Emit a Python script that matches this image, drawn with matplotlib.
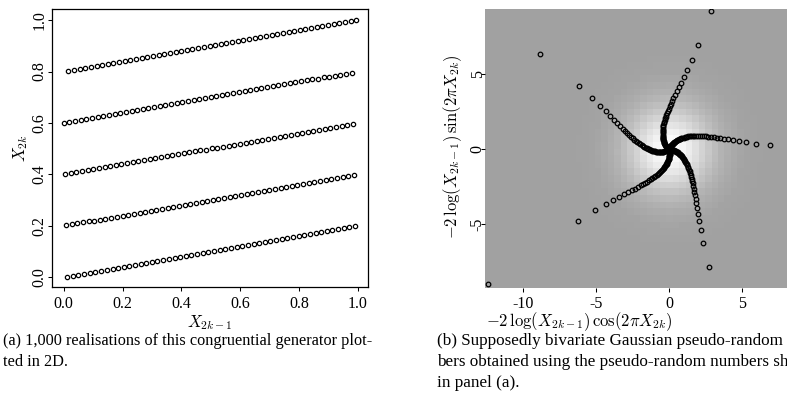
import numpy as np
import matplotlib
matplotlib.use("Agg")
import matplotlib.pyplot as plt

plt.rcParams["font.family"] = ["Liberation Serif", "DejaVu Serif"]
plt.rcParams["mathtext.fontset"] = "cm"
plt.rcParams["axes.unicode_minus"] = False

# pairs (X_{2k-1}, X_{2k}), one list per line
line0_x = [0.012, 0.031, 0.050, 0.070, 0.089, 0.108, 0.127, 0.146, 0.166, 0.185, 0.204, 0.223, 0.242,
           0.262, 0.281, 0.300, 0.319, 0.338, 0.358, 0.377, 0.396, 0.415, 0.434, 0.454, 0.473, 0.492,
           0.511, 0.530, 0.550, 0.569, 0.588, 0.607, 0.626, 0.646, 0.665, 0.684, 0.703, 0.722, 0.742,
           0.761, 0.780, 0.799, 0.818, 0.838, 0.857, 0.876, 0.895, 0.914, 0.934, 0.953, 0.972, 0.991]
line0_y = [0.0024, 0.0062, 0.0100, 0.0140, 0.0178, 0.0216, 0.0254, 0.0292, 0.0332, 0.0370, 0.0408,
           0.0446, 0.0484, 0.0524, 0.0562, 0.0600, 0.0638, 0.0676, 0.0716, 0.0754, 0.0792, 0.0830,
           0.0868, 0.0908, 0.0946, 0.0984, 0.1022, 0.1060, 0.1100, 0.1138, 0.1176, 0.1214, 0.1252,
           0.1292, 0.1330, 0.1368, 0.1406, 0.1444, 0.1484, 0.1522, 0.1560, 0.1598, 0.1636, 0.1676,
           0.1714, 0.1752, 0.1790, 0.1828, 0.1868, 0.1906, 0.1944, 0.1982]

line1_x = [0.008, 0.027, 0.046, 0.066, 0.085, 0.104, 0.123, 0.142, 0.162, 0.181, 0.200, 0.219, 0.238,
           0.258, 0.277, 0.296, 0.315, 0.334, 0.354, 0.373, 0.392, 0.411, 0.430, 0.450, 0.469, 0.488,
           0.507, 0.526, 0.546, 0.565, 0.584, 0.603, 0.622, 0.642, 0.661, 0.680, 0.699, 0.718, 0.738,
           0.757, 0.776, 0.795, 0.814, 0.834, 0.853, 0.872, 0.891, 0.910, 0.930, 0.949, 0.968, 0.987]
line1_y = [0.2016, 0.2054, 0.2092, 0.2132, 0.2170, 0.2208, 0.2246, 0.2284, 0.2324, 0.2362, 0.2400,
           0.2438, 0.2476, 0.2516, 0.2554, 0.2592, 0.2630, 0.2668, 0.2708, 0.2746, 0.2784, 0.2822,
           0.2860, 0.2900, 0.2938, 0.2976, 0.3014, 0.3052, 0.3092, 0.3130, 0.3168, 0.3206, 0.3244,
           0.3284, 0.3322, 0.3360, 0.3398, 0.3436, 0.3476, 0.3514, 0.3552, 0.3590, 0.3628, 0.3668,
           0.3706, 0.3744, 0.3782, 0.3820, 0.3860, 0.3898, 0.3936, 0.3974]

line2_x = [0.0043, 0.024, 0.043, 0.062, 0.081, 0.100, 0.120, 0.139, 0.158, 0.177, 0.196, 0.216, 0.235,
           0.254, 0.273, 0.292, 0.312, 0.331, 0.350, 0.369, 0.388, 0.408, 0.427, 0.446, 0.465, 0.484,
           0.504, 0.523, 0.542, 0.561, 0.580, 0.600, 0.619, 0.638, 0.657, 0.676, 0.696, 0.715, 0.734,
           0.753, 0.772, 0.792, 0.811, 0.830, 0.849, 0.868, 0.888, 0.907, 0.926, 0.945, 0.964, 0.984]
line2_y = [0.40086, 0.4048, 0.4086, 0.4124, 0.4162, 0.4200, 0.4240, 0.4278, 0.4316, 0.4354, 0.4392,
           0.4432, 0.4470, 0.4508, 0.4546, 0.4584, 0.4624, 0.4662, 0.4700, 0.4738, 0.4776, 0.4816,
           0.4854, 0.4892, 0.4930, 0.4968, 0.5008, 0.5046, 0.5084, 0.5122, 0.5160, 0.5200, 0.5238,
           0.5276, 0.5314, 0.5352, 0.5392, 0.5430, 0.5468, 0.5506, 0.5544, 0.5584, 0.5622, 0.5660,
           0.5698, 0.5736, 0.5776, 0.5814, 0.5852, 0.5890, 0.5928, 0.5968]

line3_x = [0.00047, 0.0197, 0.039, 0.058, 0.077, 0.096, 0.116, 0.135, 0.154, 0.173, 0.192, 0.212, 0.231,
           0.250, 0.269, 0.288, 0.308, 0.327, 0.346, 0.365, 0.384, 0.404, 0.423, 0.442, 0.461, 0.480,
           0.500, 0.519, 0.538, 0.557, 0.576, 0.596, 0.615, 0.634, 0.653, 0.672, 0.692, 0.711, 0.730,
           0.749, 0.768, 0.788, 0.807, 0.826, 0.845, 0.864, 0.884, 0.903, 0.922, 0.941, 0.960, 0.980]
line3_y = [0.600094, 0.60394, 0.6078, 0.6116, 0.6154, 0.6192, 0.6232, 0.6270, 0.6308, 0.6346, 0.6384,
           0.6424, 0.6462, 0.6500, 0.6538, 0.6576, 0.6616, 0.6654, 0.6692, 0.6730, 0.6768, 0.6808,
           0.6846, 0.6884, 0.6922, 0.6960, 0.7000, 0.7038, 0.7076, 0.7114, 0.7152, 0.7192, 0.7230,
           0.7268, 0.7306, 0.7344, 0.7384, 0.7422, 0.7460, 0.7498, 0.7536, 0.7576, 0.7614, 0.7652,
           0.7690, 0.7728, 0.7768, 0.7806, 0.7844, 0.7882, 0.7920, 0.7960]

line4_x = [0.0158, 0.035, 0.054, 0.073, 0.093, 0.112, 0.131, 0.150, 0.169, 0.189, 0.208, 0.227, 0.246,
           0.265, 0.285, 0.304, 0.323, 0.342, 0.361, 0.381, 0.400, 0.419, 0.438, 0.457, 0.477, 0.496,
           0.515, 0.534, 0.553, 0.573, 0.592, 0.611, 0.630, 0.649, 0.669, 0.688, 0.707, 0.726, 0.745,
           0.765, 0.784, 0.803, 0.822, 0.841, 0.861, 0.880, 0.899, 0.918, 0.937, 0.957, 0.976, 0.995]
line4_y = [0.80316, 0.8070, 0.8108, 0.8146, 0.8186, 0.8224, 0.8262, 0.8300, 0.8338, 0.8378, 0.8416,
           0.8454, 0.8492, 0.8530, 0.8570, 0.8608, 0.8646, 0.8684, 0.8722, 0.8762, 0.8800, 0.8838,
           0.8876, 0.8914, 0.8954, 0.8992, 0.9030, 0.9068, 0.9106, 0.9146, 0.9184, 0.9222, 0.9260,
           0.9298, 0.9338, 0.9376, 0.9414, 0.9452, 0.9490, 0.9530, 0.9568, 0.9606, 0.9644, 0.9682,
           0.9722, 0.9760, 0.9798, 0.9836, 0.9874, 0.9914, 0.9952, 0.9990]

a_ticks = [0.0, 0.2, 0.4, 0.6, 0.8, 1.0]
a_tick_labels = ["0.0", "0.2", "0.4", "0.6", "0.8", "1.0"]
b_xticks = [-10, -5, 0, 5]
b_xtick_labels = ["-10", "-5", "0", "5"]
b_yticks = [-5, 0, 5]
b_ytick_labels = ["-5", "0", "5"]

caption_a = ["(a) 1,000 realisations of this congruential generator plot-", "ted in 2D."]
caption_b = ["(b) Supposedly bivariate Gaussian pseudo-random num-",
             "bers obtained using the pseudo-random numbers shown",
             "in panel (a)."]

u1 = np.concatenate([line0_x, line1_x, line2_x, line3_x, line4_x])
u2 = np.concatenate([line0_y, line1_y, line2_y, line3_y, line4_y])

W, H = 787, 401
fig = plt.figure(figsize=(W / 100, H / 100), dpi=100)

def px(x0, y0, x1, y1):
    return [x0 / W, 1 - y1 / H, (x1 - x0) / W, (y1 - y0) / H]

tick_kw = dict(direction="out", length=3.0, width=0.75, labelsize=11.5, color="black")

# panel (a)
ax1 = fig.add_axes(px(52.3, 9, 368.3, 286.7))
ax1.plot(u1, u2, "o", ms=3.1, mfc="none", mec="black", mew=0.9, ls="none")
ax1.set_xlim(-0.0388, 1.036)
ax1.set_ylim(-0.0365, 1.043)
ax1.set_xticks(a_ticks)
ax1.set_xticklabels(a_tick_labels)
ax1.set_yticks(a_ticks)
ax1.set_yticklabels(a_tick_labels, rotation=90, va="center")
ax1.tick_params(axis="x", pad=3.5, **tick_kw)
ax1.tick_params(axis="y", pad=0.2, **tick_kw)
for s in ax1.spines.values():
    s.set_linewidth(0.9)
fig.text(210 / W, 1 - 323 / H, r"$X_{2k-1}$", ha="center", va="center", fontsize=12)
fig.text(21 / W, 1 - 148 / H, r"$X_{2k}$", ha="center", va="center", rotation=90, fontsize=12)

# panel (b): transformed points over a gaussian density background
r = -2 * np.log(u1)
bx = r * np.cos(2 * np.pi * u2)
by = r * np.sin(2 * np.pi * u2)

xlo, xhi = -12.62, 8.6
ylo, yhi = -9.25, 9.37
ax2 = fig.add_axes(px(485, 9, 485 + (xhi - xlo) * 14.58, 287.7))
cell = 0.443
gx = np.arange(xlo + cell / 2, xhi, cell)
gy = np.arange(ylo + cell / 2, yhi, cell)
GX, GY = np.meshgrid(gx, gy)
dens = 0.63 + 0.37 * np.exp(-(GX ** 2 + GY ** 2) / (2 * 2.0 ** 2))
ax2.imshow(dens, extent=[xlo, xlo + cell * len(gx), ylo, ylo + cell * len(gy)], origin="lower",
           cmap="gray", vmin=0, vmax=1, interpolation="nearest", aspect="auto", zorder=0)
ax2.plot(bx, by, "o", ms=3.3, mfc="none", mec="black", mew=0.9, ls="none", zorder=2)
ax2.set_xlim(xlo, xhi)
ax2.set_ylim(ylo, yhi)
ax2.set_xticks(b_xticks)
ax2.set_xticklabels(b_xtick_labels)
ax2.set_yticks(b_yticks)
ax2.set_yticklabels(b_ytick_labels, rotation=90, va="center")
ax2.tick_params(axis="x", pad=3.0, **tick_kw)
ax2.tick_params(axis="y", pad=-3.5, **tick_kw)
for s in ax2.spines.values():
    s.set_visible(False)
fig.text(579 / W, 1 - 322 / H, r"$-2\,\log(X_{2k-1})\,\cos(2\pi X_{2k})$", ha="center", va="center", fontsize=12)
fig.text(453 / W, 1 - 147 / H, r"$-2\,\log(X_{2k-1})\,\sin(2\pi X_{2k})$", ha="center", va="center",
         rotation=90, fontsize=12)

# captions
for i, line in enumerate(caption_a):
    fig.text(3 / W, 1 - (341 + 21 * i) / H, line, ha="left", va="center", fontsize=11.7)
for i, line in enumerate(caption_b):
    fig.text(437 / W, 1 - (341 + 21 * i) / H, line, ha="left", va="center", fontsize=12.3)

fig.savefig("out.png", dpi=100)
